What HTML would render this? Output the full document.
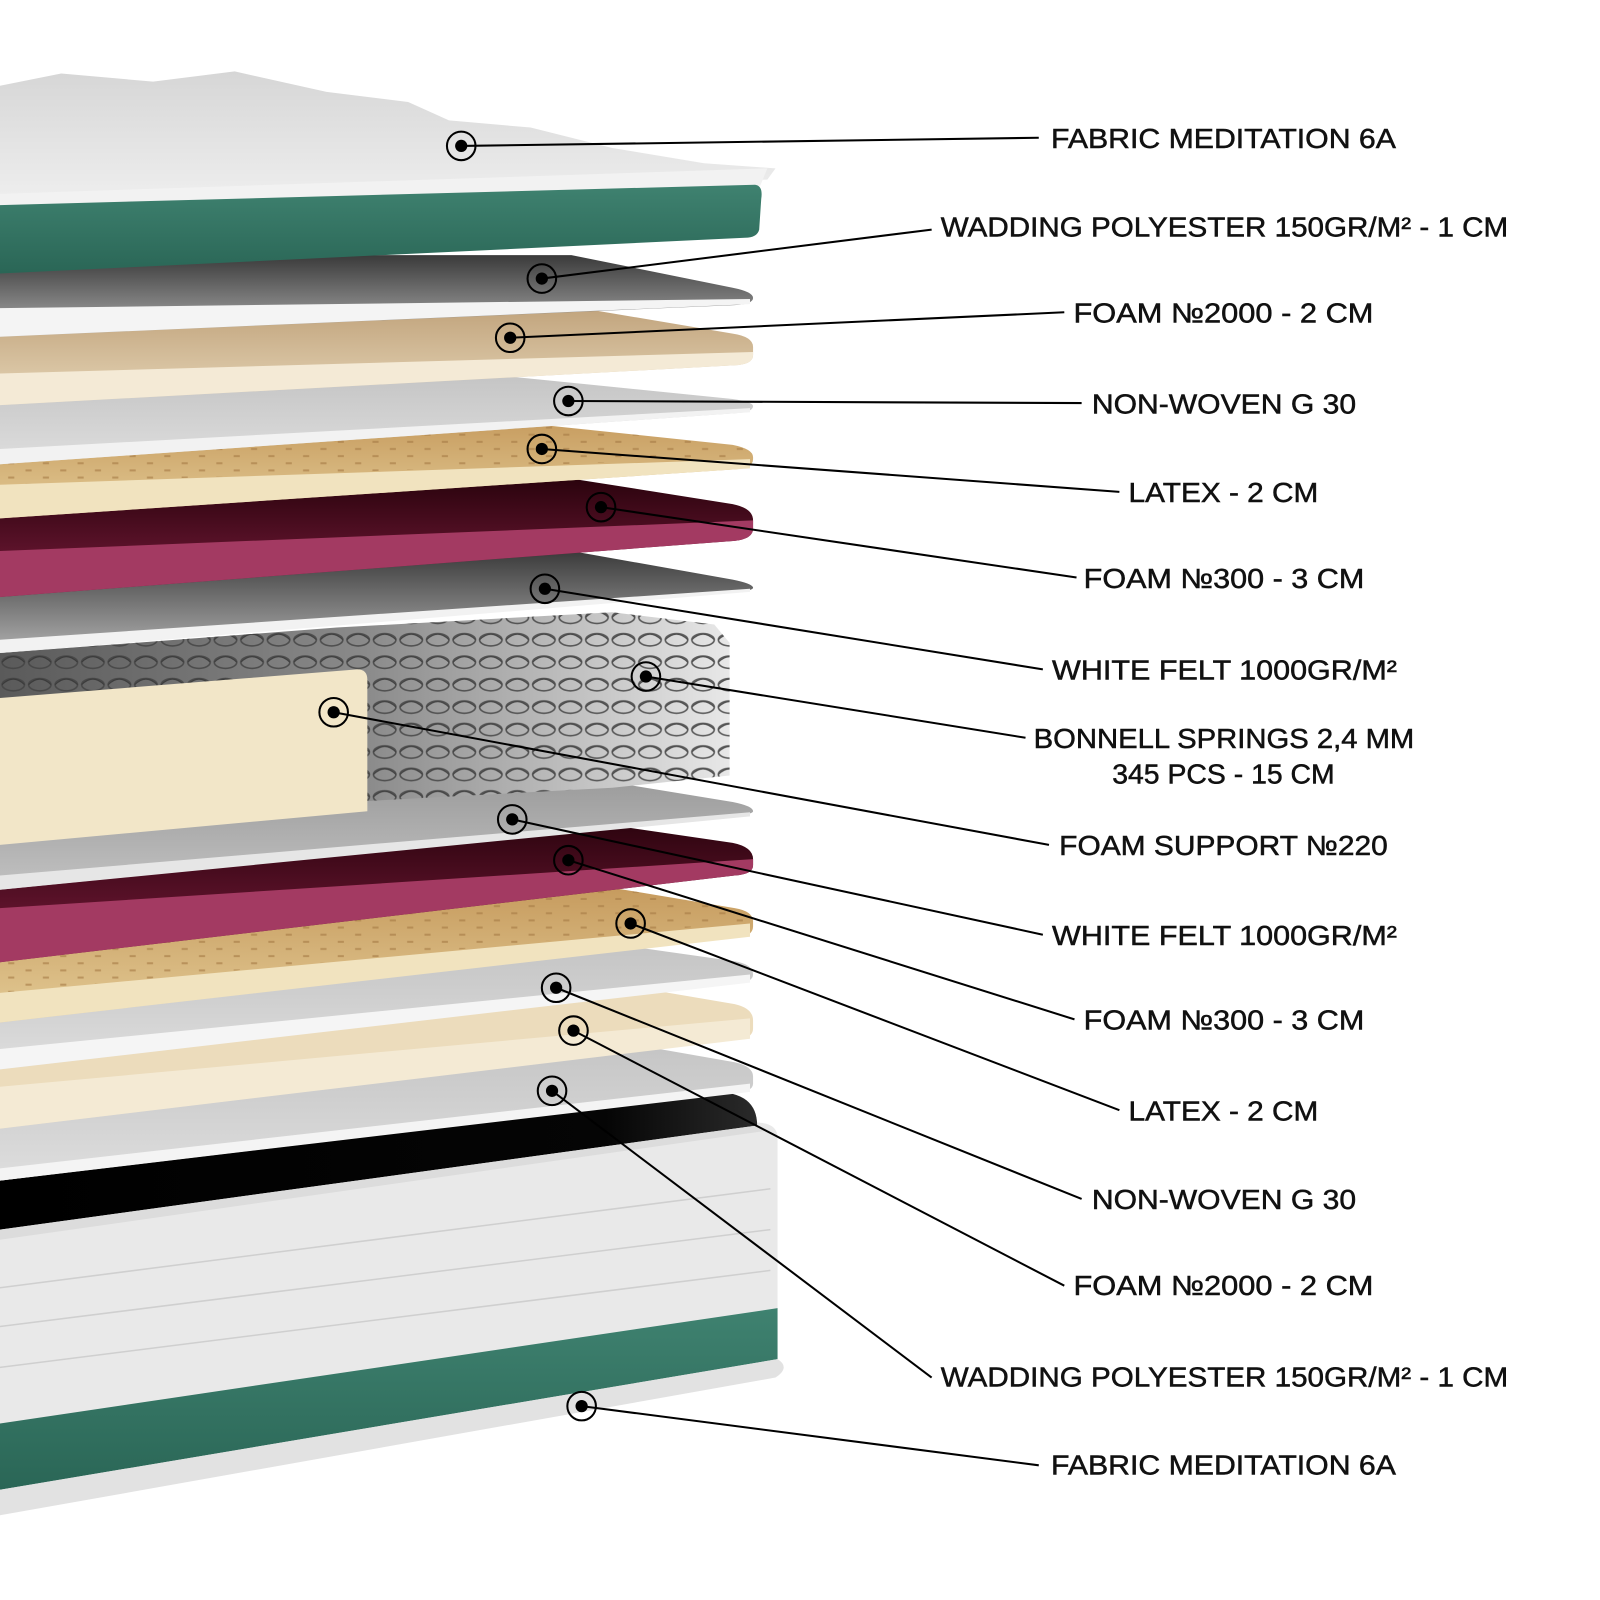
<!DOCTYPE html>
<html><head><meta charset="utf-8"><style>
html,body{margin:0;padding:0;background:#fff;}
svg{display:block;}
text{font-family:"Liberation Sans",sans-serif;font-size:27px;fill:#111;stroke:#111;stroke-width:0.5px;}
</style></head><body>
<svg width="1600" height="1600" viewBox="0 0 1568 1568" xmlns="http://www.w3.org/2000/svg">
<defs>
<linearGradient id="gQuilt" x1="0" y1="0" x2="0" y2="1"><stop offset="0" stop-color="#d6d6d6"/><stop offset="1" stop-color="#eeeeee"/></linearGradient>
<linearGradient id="gGreen" x1="0" y1="0" x2="0" y2="1"><stop offset="0" stop-color="#3f8270"/><stop offset="1" stop-color="#2a6656"/></linearGradient>
<linearGradient id="gDarkGray" x1="0" y1="0" x2="0" y2="1"><stop offset="0" stop-color="#3a3a3a"/><stop offset="1" stop-color="#b0b0b0"/></linearGradient>
<linearGradient id="gTan" x1="0" y1="0" x2="0" y2="1"><stop offset="0" stop-color="#c2a57e"/><stop offset="1" stop-color="#e6d6b8"/></linearGradient>
<linearGradient id="gLatex" x1="0" y1="0" x2="0" y2="1"><stop offset="0" stop-color="#c69b5e"/><stop offset="1" stop-color="#e4cc97"/></linearGradient>
<linearGradient id="gCrim" x1="0" y1="0" x2="0" y2="1"><stop offset="0" stop-color="#2a030d"/><stop offset="1" stop-color="#7c1c3d"/></linearGradient>
<linearGradient id="gLightGray" x1="0" y1="0" x2="0" y2="1"><stop offset="0" stop-color="#c4c4c4"/><stop offset="1" stop-color="#dedede"/></linearGradient>
<linearGradient id="gFelt" x1="0" y1="0" x2="0" y2="1"><stop offset="0" stop-color="#9a9a9a"/><stop offset="1" stop-color="#c2c2c2"/></linearGradient>
<linearGradient id="gSpr" x1="0" y1="0" x2="1" y2="0"><stop offset="0" stop-color="#5a5a5a"/><stop offset="0.5" stop-color="#8a8a8a"/><stop offset="1" stop-color="#e8e8e8"/></linearGradient>
<linearGradient id="gBlack" x1="0" y1="0" x2="1" y2="0"><stop offset="0" stop-color="#000"/><stop offset="0.8" stop-color="#050505"/><stop offset="1" stop-color="#2a2a2a"/></linearGradient>
<pattern id="pSpring" width="26" height="22" patternUnits="userSpaceOnUse">
<ellipse cx="13" cy="11" rx="11" ry="6" fill="none" stroke="#444" stroke-width="1.6"/>
<path d="M2 11 Q13 0 24 11" fill="none" stroke="#333" stroke-width="1.2"/>
</pattern>
<pattern id="pDots" width="34" height="14" patternUnits="userSpaceOnUse">
<rect x="8" y="5" width="6" height="2" fill="#a57a45" opacity="0.6"/>
<rect x="25" y="12" width="6" height="2" fill="#a57a45" opacity="0.6"/>
</pattern>
</defs>

<path d="M0 1200 L740 1100 Q762 1100 762 1115 L762 1330 Q762 1345 745 1350 L0 1474 Z" fill="#e9e9e9"/>
<path d="M0 1395 L762 1282 L762 1332 L0 1460 Z" fill="url(#gGreen)"/>
<path d="M0 1460 L762 1332 Q775 1340 760 1350 L0 1485 Z" fill="#e2e2e2"/>
<path d="M0 1157 L700 1070 Q742 1070 742 1103 L0 1205 Z" fill="url(#gBlack)"/>
<path d="M0 1205 L742 1103 L752 1108 L0 1215 Z" fill="#dcdcdc"/>
<g stroke="#cfcfcf" stroke-width="1.5" fill="none">
<path d="M0 1262 L755 1165"/><path d="M0 1300 L755 1205"/><path d="M0 1340 L755 1245"/>
</g>

<path d="M0 1060 L600 1020 L720 1041 Q738 1045 738 1055 L738 1062 Q738 1070 720 1071 L0 1157 Z" fill="url(#gLightGray)"/>
<path d="M0 1145 L735 1062 L735 1070 L0 1157 Z" fill="#f4f4f4"/>
<path d="M0 1010 L620 967 L720 984 Q738 988 738 1000 L738 1008 Q738 1018 720 1019 L0 1106 Z" fill="#ecdcbc"/>
<path d="M0 1065 L735 998 L735 1018 L0 1106 Z" fill="#f4ead4"/>
<path d="M0 960 L600 925 L720 942 Q738 945 738 955 L738 955 Q738 963 720 964 L0 1048 Z" fill="url(#gLightGray)"/>
<path d="M0 1028 L735 955 L735 963 L0 1048 Z" fill="#f5f5f5"/>
<path d="M0 900 L600 870 L720 890 Q738 893 738 903 L738 908 Q738 918 720 919 L0 1002 Z" fill="url(#gLatex)"/>
<path d="M0 900 L600 870 L720 890 Q738 893 738 903 L0 973 Z" fill="url(#pDots)"/>
<path d="M0 973 L735 905 L735 918 L0 1002 Z" fill="#f1e3bf"/>
<path d="M0 845 L560 803 L718 826 Q738 830 738 842 L738 848 Q738 857 720 858 L0 943 Z" fill="url(#gCrim)"/>
<path d="M0 890 L738 842 L738 848 Q738 857 720 858 L0 943 Z" fill="#a33a62"/>
<path d="M0 760 L560 760 L718 786 Q738 790 738 795 Q738 798 720 799 L0 872 Z" fill="url(#gFelt)"/>
<path d="M0 858 L735 796 L735 800 L0 872 Z" fill="#e6e6e6"/>

<path d="M0 640 L330 615 L600 600 L700 612 L715 630 L715 760 L600 772 L360 785 L0 700 Z" fill="url(#gSpr)"/>
<path d="M0 640 L330 615 L600 600 L700 612 L715 630 L715 760 L600 772 L360 785 L0 700 Z" fill="url(#pSpring)" opacity="0.85"/>

<path d="M0 684 L350 656 Q360 656 360 666 L360 795 L0 828 Z" fill="#f2e6c8"/>

<path d="M0 560 L560 540 L718 568 Q738 572 738 576 Q738 579 720 580 L0 640 Z" fill="url(#gDarkGray)"/>
<path d="M0 627 L735 577 L735 580 L0 640 Z" fill="#f2f2f2"/>
<path d="M0 478 L560 469 L718 494 Q738 498 738 510 L738 518 Q738 528 720 530 L0 585 Z" fill="url(#gCrim)"/>
<path d="M0 540 L738 510 L738 518 Q738 528 720 530 L0 585 Z" fill="#a33a62"/>
<path d="M0 420 L470 410 L718 436 Q738 440 738 448 L738 450 Q738 459 720 460 L0 508 Z" fill="url(#gLatex)"/>
<path d="M0 420 L470 410 L718 436 Q738 440 738 448 L0 475 Z" fill="url(#pDots)"/>
<path d="M0 475 L735 450 L735 459 L0 508 Z" fill="#f1e3bf"/>
<path d="M0 370 L460 365 L718 391 Q738 394 738 398 Q738 404 720 405 L0 455 Z" fill="url(#gLightGray)"/>
<path d="M0 440 L735 400 L735 404 L0 455 Z" fill="#f2f2f2"/>
<path d="M0 310 L582 304 L718 327 Q738 330 738 340 L738 348 Q738 357 720 358 L0 397 Z" fill="url(#gTan)"/>
<path d="M0 366 L738 345 L738 348 Q738 357 720 358 L0 397 Z" fill="#f4ead6"/>
<path d="M0 250 L560 250 L718 282 Q738 286 738 292 Q738 298 720 299 L0 330 Z" fill="url(#gDarkGray)"/>
<path d="M0 302 L735 293 L735 298 L0 330 Z" fill="#f4f4f4"/>

<path d="M0 84 L30 78 L60 72 L150 80 L230 70 L320 90 L400 100 L440 118 L520 125 L600 145 L690 160 L760 165 L752 176 L0 195 Z" fill="url(#gQuilt)"/>
<path d="M0 190 L752 165 L745 182 L0 205 Z" fill="#f2f2f2"/>
<path d="M0 201 L740 181 Q748 182 746 195 L744 225 Q742 233 730 233 L0 268 Z" fill="url(#gGreen)"/>

<g stroke="#000" stroke-width="2" fill="none">
<line x1="452" y1="143" x2="1018" y2="135"/>
<line x1="531" y1="273" x2="913" y2="225"/>
<line x1="500" y1="331" x2="1043" y2="306"/>
<line x1="557" y1="393" x2="1060" y2="395"/>
<line x1="531" y1="440" x2="1097" y2="482"/>
<line x1="589" y1="497" x2="1055" y2="566"/>
<line x1="534" y1="577" x2="1022" y2="656"/>
<line x1="633" y1="663" x2="1005" y2="723"/>
<line x1="327" y1="698" x2="1028" y2="828"/>
<line x1="502" y1="803" x2="1022" y2="916"/>
<line x1="557" y1="843" x2="1053" y2="999"/>
<line x1="618" y1="905" x2="1097" y2="1088"/>
<line x1="545" y1="968" x2="1060" y2="1175"/>
<line x1="562" y1="1010" x2="1043" y2="1260"/>
<line x1="541" y1="1069" x2="913" y2="1350"/>
<line x1="570" y1="1378" x2="1018" y2="1436"/>
</g>
<g fill="none" stroke="#000" stroke-width="2">
<circle cx="452" cy="143" r="14"/><circle cx="531" cy="273" r="14"/><circle cx="500" cy="331" r="14"/>
<circle cx="557" cy="393" r="14"/><circle cx="531" cy="440" r="14"/><circle cx="589" cy="497" r="14"/>
<circle cx="534" cy="577" r="14"/><circle cx="633" cy="663" r="14"/><circle cx="327" cy="698" r="14"/>
<circle cx="502" cy="803" r="14"/><circle cx="557" cy="843" r="14"/><circle cx="618" cy="905" r="14"/>
<circle cx="545" cy="968" r="14"/><circle cx="562" cy="1010" r="14"/><circle cx="541" cy="1069" r="14"/>
<circle cx="570" cy="1378" r="14"/>
</g>
<g fill="#000">
<circle cx="452" cy="143" r="6"/><circle cx="531" cy="273" r="6"/><circle cx="500" cy="331" r="6"/>
<circle cx="557" cy="393" r="6"/><circle cx="531" cy="440" r="6"/><circle cx="589" cy="497" r="6"/>
<circle cx="534" cy="577" r="6"/><circle cx="633" cy="663" r="6"/><circle cx="327" cy="698" r="6"/>
<circle cx="502" cy="803" r="6"/><circle cx="557" cy="843" r="6"/><circle cx="618" cy="905" r="6"/>
<circle cx="545" cy="968" r="6"/><circle cx="562" cy="1010" r="6"/><circle cx="541" cy="1069" r="6"/>
<circle cx="570" cy="1378" r="6"/>
</g>

<text x="1030" y="145" textLength="338" lengthAdjust="spacingAndGlyphs">FABRIC MEDITATION 6A</text>
<text x="922" y="232" textLength="556" lengthAdjust="spacingAndGlyphs">WADDING POLYESTER 150GR/M² - 1 CM</text>
<text x="1052" y="316" textLength="294" lengthAdjust="spacingAndGlyphs">FOAM №2000 - 2 CM</text>
<text x="1070" y="405" textLength="259" lengthAdjust="spacingAndGlyphs">NON-WOVEN G 30</text>
<text x="1106" y="492" textLength="186" lengthAdjust="spacingAndGlyphs">LATEX - 2 CM</text>
<text x="1062" y="576" textLength="275" lengthAdjust="spacingAndGlyphs">FOAM №300 - 3 CM</text>
<text x="1031" y="666" textLength="338" lengthAdjust="spacingAndGlyphs">WHITE FELT 1000GR/M²</text>
<text x="1013" y="733" textLength="373" lengthAdjust="spacingAndGlyphs">BONNELL SPRINGS 2,4 MM</text>
<text x="1090" y="768" textLength="218" lengthAdjust="spacingAndGlyphs">345 PCS - 15 CM</text>
<text x="1038" y="838" textLength="322" lengthAdjust="spacingAndGlyphs">FOAM SUPPORT №220</text>
<text x="1031" y="926" textLength="338" lengthAdjust="spacingAndGlyphs">WHITE FELT 1000GR/M²</text>
<text x="1062" y="1009" textLength="275" lengthAdjust="spacingAndGlyphs">FOAM №300 - 3 CM</text>
<text x="1106" y="1098" textLength="186" lengthAdjust="spacingAndGlyphs">LATEX - 2 CM</text>
<text x="1070" y="1185" textLength="259" lengthAdjust="spacingAndGlyphs">NON-WOVEN G 30</text>
<text x="1052" y="1269" textLength="294" lengthAdjust="spacingAndGlyphs">FOAM №2000 - 2 CM</text>
<text x="922" y="1359" textLength="556" lengthAdjust="spacingAndGlyphs">WADDING POLYESTER 150GR/M² - 1 CM</text>
<text x="1030" y="1445" textLength="338" lengthAdjust="spacingAndGlyphs">FABRIC MEDITATION 6A</text>
</svg>
</body></html>
